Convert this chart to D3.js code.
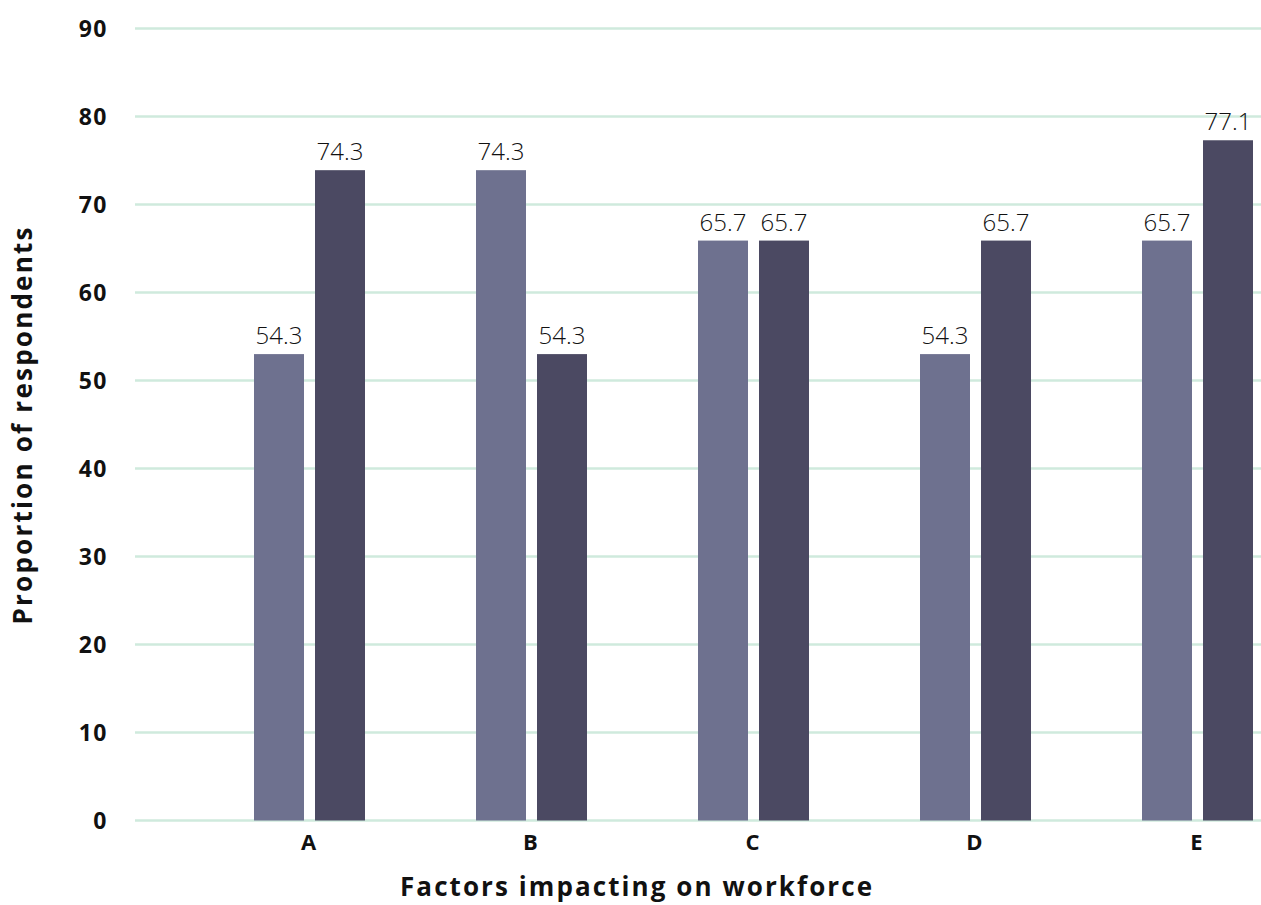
<!DOCTYPE html>
<html>
<head>
<meta charset="utf-8">
<script src="https://cdn.jsdelivr.net/npm/d3@7"></script>
<style>
  html, body { margin: 0; padding: 0; background: #ffffff; }
  svg { display: block; }
  text { font-family: "Open Sans", "Noto Sans", sans-serif; fill: #111111; }
</style>
</head>
<body>
<svg id="chart" width="1261" height="905"></svg>
<script>
// ---- data ----
const categories = ["A", "B", "C", "D", "E"];
const seriesNames = ["Series 1", "Series 2"];
// bar heights
const series1Values = [53.0, 73.9, 65.9, 53.0, 65.9];
const series2Values = [73.9, 53.0, 65.9, 65.9, 77.3];
// value labels as printed in the picture
const series1Labels = ["54.3", "74.3", "65.7", "54.3", "65.7"];
const series2Labels = ["74.3", "54.3", "65.7", "65.7", "77.1"];
const yTicks = [0, 10, 20, 30, 40, 50, 60, 70, 80, 90];
const seriesColors = ["#6e718f", "#4b4962"];
const xTitle = "Factors impacting on workforce";
const yTitle = "Proportion of respondents";

const rows = categories.map((c, i) => ({
  cat: c,
  vals: [
    { s: seriesNames[0], v: series1Values[i], label: series1Labels[i], color: seriesColors[0] },
    { s: seriesNames[1], v: series2Values[i], label: series2Labels[i], color: seriesColors[1] }
  ]
}));

const svg = d3.select("#chart");

const y = d3.scaleLinear().domain([0, 90]).range([820.5, 28.5]);
const x0 = d3.scaleBand().domain(categories).range([198.5, 1308.5]).paddingInner(0).paddingOuter(0);
const x1 = d3.scaleBand().domain(seriesNames).range([55.5, 166.5]).paddingInner(11 / 61).paddingOuter(0);

// gridlines
svg.append("g")
  .selectAll("line")
  .data(yTicks)
  .join("line")
  .attr("x1", 135).attr("x2", 1261)
  .attr("y1", d => y(d)).attr("y2", d => y(d))
  .attr("stroke", "#cfeadd")
  .attr("stroke-width", 2.5);

// y axis labels
const yAxis = d3.axisLeft(y).tickValues(yTicks).tickSize(0).tickPadding(0);
const gy = svg.append("g").attr("transform", "translate(108,0)").call(yAxis);
gy.select(".domain").remove();
gy.selectAll("text")
  .attr("font-family", "'Open Sans', 'Noto Sans', sans-serif")
  .attr("font-size", 23)
  .attr("font-weight", 700)
  .attr("letter-spacing", 1.5)
  .attr("fill", "#111111")
  .attr("dy", "0.36em");

// x axis labels
const xAxis = d3.axisBottom(x0).tickSize(0).tickPadding(0);
const gx = svg.append("g").attr("transform", "translate(-1,834)").call(xAxis);
gx.select(".domain").remove();
gx.selectAll("text")
  .attr("font-family", "'Open Sans', 'Noto Sans', sans-serif")
  .attr("font-size", 22)
  .attr("font-weight", 700)
  .attr("fill", "#111111")
  .attr("dy", "0.72em");

// bars
const groups = svg.append("g")
  .selectAll("g")
  .data(rows)
  .join("g")
  .attr("transform", d => `translate(${x0(d.cat)},0)`);

groups.selectAll("rect")
  .data(d => d.vals)
  .join("rect")
  .attr("x", d => x1(d.s))
  .attr("width", x1.bandwidth())
  .attr("y", d => y(d.v))
  .attr("height", d => y(0) - y(d.v))
  .attr("fill", d => d.color);

groups.selectAll("text.val")
  .data(d => d.vals)
  .join("text")
  .attr("class", "val")
  .attr("x", d => x1(d.s) + x1.bandwidth() / 2)
  .attr("y", d => y(d.v) - 10)
  .attr("text-anchor", "middle")
  .attr("font-size", 24)
  .attr("font-weight", 300)
  .attr("fill", "#1a1a1a")
  .text(d => d.label);

// axis titles
svg.append("text")
  .attr("x", 636)
  .attr("y", 896)
  .attr("text-anchor", "middle")
  .attr("font-size", 26)
  .attr("font-weight", 700)
  .attr("textLength", 472)
  .attr("lengthAdjust", "spacing")
  .text(xTitle);

svg.append("text")
  .attr("transform", "translate(32,426) rotate(-90)")
  .attr("text-anchor", "middle")
  .attr("font-size", 26)
  .attr("font-weight", 700)
  .attr("textLength", 397)
  .attr("lengthAdjust", "spacing")
  .text(yTitle);
</script>
</body>
</html>
